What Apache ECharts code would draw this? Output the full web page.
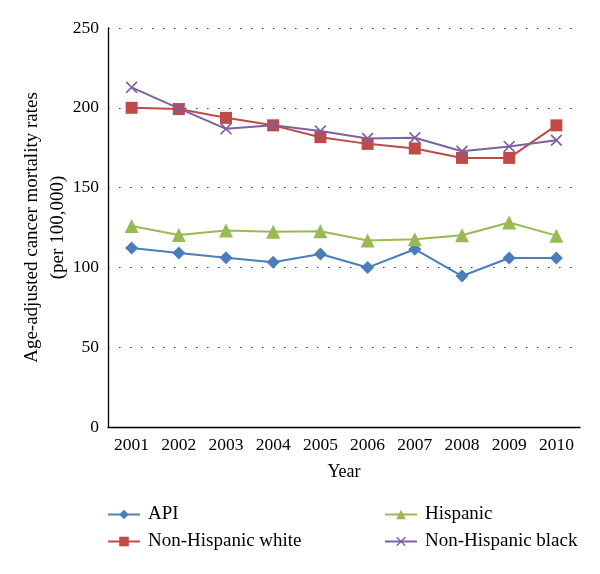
<!DOCTYPE html>
<html>
<head>
<meta charset="utf-8">
<script src="https://cdn.jsdelivr.net/npm/echarts@6/dist/echarts.min.js"></script>
<style>
  html, body { margin: 0; padding: 0; background: #fff; }
  #chart { width: 600px; height: 574px; }
</style>
</head>
<body>
<div id="chart"></div>
<script>
// data
const years = ['2001', '2002', '2003', '2004', '2005', '2006', '2007', '2008', '2009', '2010'];
const apiRates = [112.2, 109.0, 106.1, 103.2, 108.4, 99.9, 111.4, 94.6, 105.9, 105.9];
const hispanicRates = [126.0, 120.3, 123.1, 122.4, 122.6, 116.8, 117.6, 120.1, 128.1, 119.9];
const whiteRates = [200.0, 199.2, 193.7, 189.0, 181.6, 177.4, 174.5, 168.6, 168.6, 189.0];
const blackRates = [212.8, 199.6, 186.8, 189.0, 185.4, 180.8, 181.2, 172.8, 175.8, 179.7];

const font = 'Liberation Serif';
const crossPath = 'path://M1,0L5,4L9,0L10,1L6,5L10,9L9,10L5,6L1,10L0,9L4,5L0,1Z';

const chart = echarts.init(document.getElementById('chart'));

function lineSeries(name, data, color, symbol, size) {
  return {
    name: name,
    type: 'line',
    data: data,
    symbol: symbol,
    symbolSize: size,
    showAllSymbol: true,
    lineStyle: { color: color, width: 2 },
    itemStyle: { color: color },
    emphasis: { disabled: true },
    animation: false
  };
}

const legendBase = {
  orient: 'vertical',
  itemWidth: 32,
  itemHeight: 12,
  itemGap: 8,
  textStyle: { fontFamily: font, fontSize: 19, color: '#000', padding: [0, 0, 0, 3] }
};

chart.setOption({
  backgroundColor: '#fff',
  grid: { left: 108, right: 20, top: 28, bottom: 147 },
  legend: [
    Object.assign({ left: 102, top: 500, data: ['API', 'Non-Hispanic white'] }, legendBase),
    Object.assign({ left: 379, top: 500, data: ['Hispanic', 'Non-Hispanic black'] }, legendBase)
  ],
  xAxis: {
    type: 'category',
    data: years,
    name: 'Year',
    nameLocation: 'middle',
    nameGap: 36,
    nameTextStyle: { fontFamily: font, fontSize: 18, color: '#000' },
    axisLine: { lineStyle: { color: '#000', width: 1.3 } },
    axisTick: { show: false },
    axisLabel: { fontFamily: font, fontSize: 17.5, color: '#000', margin: 9 }
  },
  yAxis: {
    type: 'value',
    min: 0,
    max: 250,
    interval: 50,
    name: 'Age-adjusted cancer mortality rates\n(per 100,000)',
    nameLocation: 'middle',
    nameGap: 37,
    nameMoveOverlap: false,
    nameTextStyle: { fontFamily: font, fontSize: 19, color: '#000', lineHeight: 26 },
    axisLine: { show: true, lineStyle: { color: '#000', width: 1.3 } },
    axisTick: { show: false },
    axisLabel: { fontFamily: font, fontSize: 17.5, color: '#000', margin: 9 },
    splitLine: { lineStyle: { color: '#333', type: [1.5, 9.5], width: 1.2 } }
  },
  series: [
    lineSeries('API', apiRates, '#4a7ebb', 'diamond', 13),
    lineSeries('Non-Hispanic white', whiteRates, '#be4b48', 'rect', 12),
    lineSeries('Hispanic', hispanicRates, '#98b954', 'triangle', 14),
    lineSeries('Non-Hispanic black', blackRates, '#7d60a0', crossPath, 12)
  ]
});
</script>
</body>
</html>
